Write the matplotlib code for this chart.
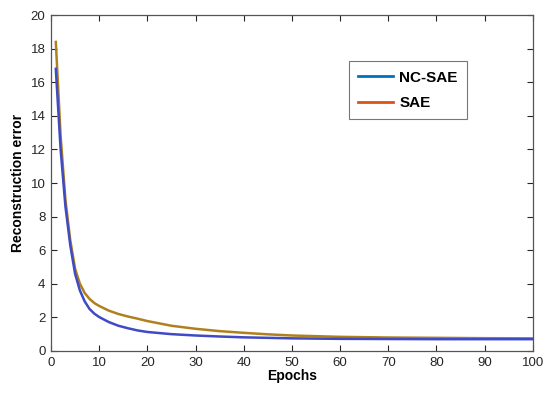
import matplotlib
matplotlib.use('Agg')
import matplotlib.pyplot as plt
from matplotlib.lines import Line2D

plt.rcParams['font.family'] = ['Liberation Sans', 'DejaVu Sans']

# epochs sampled along the curves
epochs = [1, 2, 3, 4, 5, 6, 7, 8, 9, 10, 12, 14, 16, 18, 20, 25, 30, 35, 40,
          45, 50, 60, 70, 80, 90, 100]

sae = [18.4, 12.8, 9.0, 6.6, 4.9, 4.0, 3.45, 3.1, 2.85, 2.68, 2.4, 2.2, 2.05,
       1.92, 1.78, 1.5, 1.32, 1.18, 1.08, 0.99, 0.92, 0.84, 0.8, 0.78, 0.76, 0.75]

nc_sae = [16.8, 12.0, 8.6, 6.3, 4.6, 3.6, 2.95, 2.5, 2.22, 2.02, 1.72, 1.5, 1.35,
          1.22, 1.13, 1.0, 0.92, 0.86, 0.81, 0.78, 0.75, 0.72, 0.71, 0.7, 0.7, 0.7]

labels = ['NC-SAE', 'SAE']
xticks = list(range(0, 101, 10))
yticks = list(range(0, 21, 2))

fig = plt.figure(figsize=(5.5, 3.97), dpi=100)
ax = fig.add_axes([0.0927, 0.116, 0.876, 0.846])

# colours as they look in the plot area
ax.plot(epochs, sae, color='#b0801e', lw=1.8)
ax.plot(epochs, nc_sae, color='#3f4ac4', lw=1.8)

ax.set_xlim(0, 100)
ax.set_ylim(0, 20)
ax.set_xticks(xticks)
ax.set_yticks(yticks)
ax.tick_params(direction='in', top=True, right=True, length=4, width=0.8,
               labelsize=9.5, colors='#262626', pad=4)
for s in ax.spines.values():
    s.set_color('#555555')
    s.set_linewidth(0.9)

ax.set_xlabel('Epochs', fontweight='bold', fontsize=10, labelpad=0)
ax.set_ylabel('Reconstruction error', fontweight='bold', fontsize=10, labelpad=4)

# legend uses the default MATLAB colours
handles = [Line2D([], [], color='#0072bd', lw=2),
           Line2D([], [], color='#d95319', lw=2)]
leg = ax.legend(handles, labels, loc='upper left', bbox_to_anchor=(0.618, 0.862),
                prop={'weight': 'bold', 'size': 11}, frameon=True, fancybox=False,
                handlelength=2.3, borderpad=0.6, labelspacing=0.75, handletextpad=0.4,
                borderaxespad=0)
leg.get_frame().set_edgecolor('#555555')
leg.get_frame().set_linewidth(0.8)

fig.savefig('out.png', dpi=100)
